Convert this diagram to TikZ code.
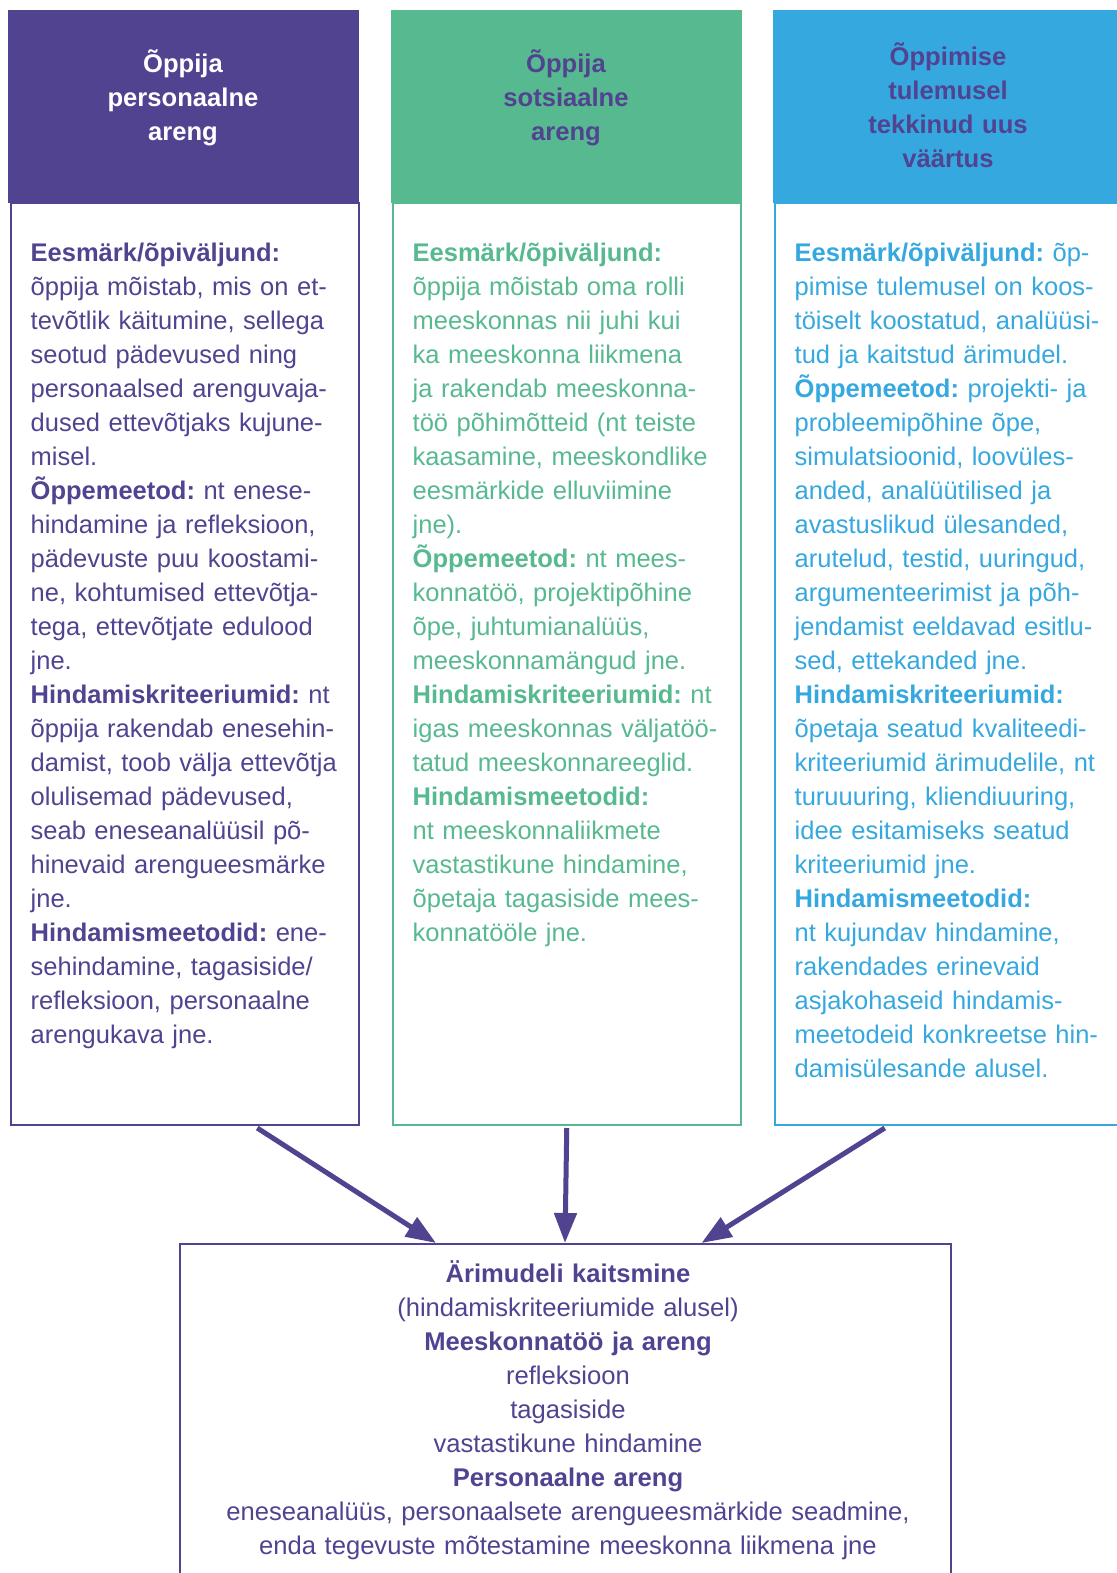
\documentclass[tikz,border=0pt]{standalone}
\usepackage{fontspec}
\setmainfont{Liberation Sans}
\usetikzlibrary{arrows.meta}
\definecolor{cpurple}{RGB}{82,67,145}
\definecolor{cgreen}{RGB}{87,185,143}
\definecolor{cblue}{RGB}{53,168,224}
\frenchspacing
\begin{document}
\begin{tikzpicture}[x=1pt,y=-1pt,
  bodytext/.style={inner sep=0pt, anchor=north west, text width=340pt, align=left, font=\fontsize{25.5}{34}\selectfont},
  headtext/.style={inner sep=0pt, anchor=north, text width=340pt, align=center, font=\fontsize{25.6}{34}\selectfont\bfseries},
  bottomtext/.style={inner sep=0pt, anchor=north, text width=760pt, align=center, font=\fontsize{25.6}{34}\selectfont},
  headbox/.style={anchor=north west, minimum width=351pt, minimum height=192.5pt, inner sep=0pt, draw=none},
  colbox/.style={anchor=north west, minimum width=347.5pt, minimum height=922pt, inner sep=0pt, line width=2pt, fill=white},
  arr/.style={draw=cpurple, line width=5pt, -{Triangle[length=30pt,width=22pt]}}
]
\useasboundingbox (0,0) rectangle (1116,1573);
\fill[white] (0,0) rectangle (1116,1573);

% column boxes
\node[colbox, draw=cpurple] (box1) at (10,202) {};
\node[colbox, draw=cgreen]  (box2) at (392,202) {};
\node[colbox, draw=cblue]   (box3) at (774,202) {};

% headers
\node[headbox, fill=cpurple] (head1) at (8,10) {};
\node[headbox, fill=cgreen]  (head2) at (391,10) {};
\node[headbox, fill=cblue]   (head3) at (773,10) {};

\node[headtext, text=white]   (ht1) at (183,48.2) {\strut Õppija\\personaalne\\areng};
\node[headtext, text=cpurple] (ht2) at (566,48.2) {\strut Õppija\\sotsiaalne\\areng};
\node[headtext, text=cpurple] (ht3) at (948,42) {\strut Õppimise\\tulemusel\\tekkinud uus\\väärtus};

% body texts
\node[bodytext, text=cpurple] (bt1) at (30.5,237.5) {\strut\textbf{Eesmärk/õpiväljund:}\\
õppija mõistab, mis on et-\\
tevõtlik käitumine, sellega\\
seotud pädevused ning\\
personaalsed arenguvaja-\\
dused ettevõtjaks kujune-\\
misel.\\
\textbf{Õppemeetod:} nt enese-\\
hindamine ja refleksioon,\\
pädevuste puu koostami-\\
ne, kohtumised ettevõtja-\\
tega, ettevõtjate edulood\\
jne.\\
\textbf{Hindamiskriteeriumid:} nt\\
õppija rakendab enesehin-\\
damist, toob välja ettevõtja\\
olulisemad pädevused,\\
seab eneseanalüüsil põ-\\
hinevaid arengueesmärke\\
jne.\\
\textbf{Hindamismeetodid:} ene-\\
sehindamine, tagasiside/\\
refleksioon, personaalne\\
arengukava jne.};

\node[bodytext, text=cgreen] (bt2) at (412.5,237.5) {\strut\textbf{Eesmärk/õpiväljund:}\\
õppija mõistab oma rolli\\
meeskonnas nii juhi kui\\
ka meeskonna liikmena\\
ja rakendab meeskonna-\\
töö põhimõtteid (nt teiste\\
kaasamine, meeskondlike\\
eesmärkide elluviimine\\
jne).\\
\textbf{Õppemeetod:} nt mees-\\
konnatöö, projektipõhine\\
õpe, juhtumianalüüs,\\
meeskonnamängud jne.\\
\textbf{Hindamiskriteeriumid:} nt\\
igas meeskonnas väljatöö-\\
tatud meeskonnareeglid.\\
\textbf{Hindamismeetodid:}\\
nt meeskonnaliikmete\\
vastastikune hindamine,\\
õpetaja tagasiside mees-\\
konnatööle jne.};

\node[bodytext, text=cblue] (bt3) at (794.5,237.5) {\strut\textbf{Eesmärk/õpiväljund:} õp-\\
pimise tulemusel on koos-\\
töiselt koostatud, analüüsi-\\
tud ja kaitstud ärimudel.\\
\textbf{Õppemeetod:} projekti- ja\\
probleemipõhine õpe,\\
simulatsioonid, loovüles-\\
anded, analüütilised ja\\
avastuslikud ülesanded,\\
arutelud, testid, uuringud,\\
argumenteerimist ja põh-\\
jendamist eeldavad esitlu-\\
sed, ettekanded jne.\\
\textbf{Hindamiskriteeriumid:}\\
õpetaja seatud kvaliteedi-\\
kriteeriumid ärimudelile, nt\\
turuuuring, kliendiuuring,\\
idee esitamiseks seatud\\
kriteeriumid jne.\\
\textbf{Hindamismeetodid:}\\
nt kujundav hindamine,\\
rakendades erinevaid\\
asjakohaseid hindamis-\\
meetodeid konkreetse hin-\\
damisülesande alusel.};

% bottom box
\node[anchor=north west, minimum width=771pt, minimum height=360pt, inner sep=0pt, draw=cpurple, line width=2pt] (bottom) at (179,1243) {};
\node[bottomtext, text=cpurple] (btb) at (568,1258) {\strut\textbf{Ärimudeli kaitsmine}\\
(hindamiskriteeriumide alusel)\\
\textbf{Meeskonnatöö ja areng}\\
refleksioon\\
tagasiside\\
vastastikune hindamine\\
\textbf{Personaalne areng}\\
eneseanalüüs, personaalsete arengueesmärkide seadmine,\\
enda tegevuste mõtestamine meeskonna liikmena jne};

% arrows
\draw[arr] ([xshift=72.5pt,yshift=-2pt]box1.south) -- ([xshift=-129.5pt]bottom.north);
\draw[arr] ([yshift=-2pt]box2.south) -- ([xshift=-0.5pt]bottom.north);
\draw[arr] ([xshift=-64pt,yshift=-2pt]box3.south) -- ([xshift=136pt]bottom.north);
\end{tikzpicture}
\end{document}
